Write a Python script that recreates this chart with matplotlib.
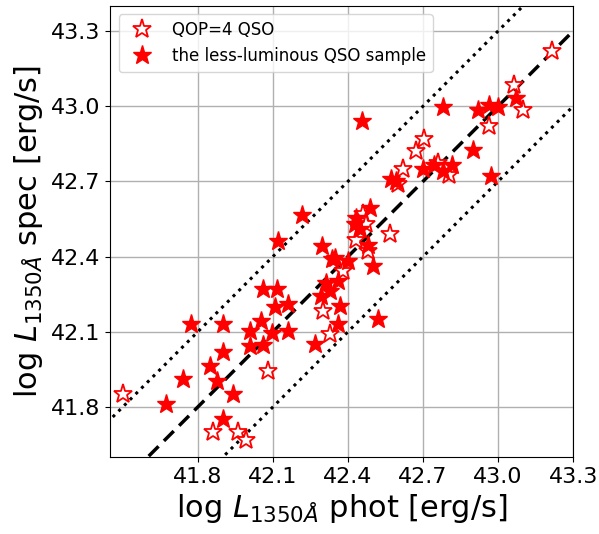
import numpy as np
import matplotlib
matplotlib.use('Agg')
import matplotlib.pyplot as plt

# QOP=4 QSOs (open stars)
phot_qop4 = [41.50, 41.862, 41.962, 41.992, 42.079, 42.300, 42.330, 42.380,
             42.433, 42.480, 42.460, 42.473, 42.569, 42.599, 42.619, 42.670,
             42.702, 42.759, 42.802, 42.962, 43.064, 43.100, 43.217]
spec_qop4 = [41.85, 41.700, 41.700, 41.670, 41.943, 42.182, 42.090, 42.342,
             42.468, 42.421, 42.568, 42.528, 42.488, 42.688, 42.750, 42.820,
             42.867, 42.774, 42.727, 42.920, 43.083, 42.984, 43.219]

# less-luminous QSO sample (filled stars)
phot_faint = [41.672, 41.739, 41.772, 41.902, 41.902, 41.849, 41.878, 41.939,
              41.900, 42.008, 42.008, 42.218, 42.121, 42.298, 42.061, 42.117,
              42.338, 42.161, 42.108, 42.051, 42.095, 42.161, 42.061, 42.270,
              42.360, 42.367, 42.500, 42.520, 42.347, 42.400, 42.360, 42.314,
              42.327, 42.294, 42.486, 42.433, 42.427, 42.447, 42.480, 42.573,
              42.590, 42.699, 42.745, 42.778, 42.816, 42.901, 42.971, 42.778,
              42.918, 42.965, 42.998, 43.071, 42.457]
spec_faint = [41.810, 41.912, 42.129, 42.129, 42.020, 41.963, 41.903, 41.850,
              41.753, 42.102, 42.043, 42.564, 42.464, 42.444, 42.272, 42.272,
              42.391, 42.209, 42.197, 42.142, 42.096, 42.102, 42.049, 42.053,
              42.130, 42.202, 42.362, 42.152, 42.395, 42.382, 42.302, 42.295,
              42.262, 42.242, 42.595, 42.555, 42.528, 42.508, 42.448, 42.710,
              42.700, 42.750, 42.767, 42.741, 42.767, 42.824, 42.721, 42.998,
              42.984, 43.003, 42.998, 43.033, 42.940]

ticks = [41.8, 42.1, 42.4, 42.7, 43.0, 43.3]

fig, ax = plt.subplots(figsize=(5.99, 5.34), dpi=100)
fig.subplots_adjust(left=0.184, right=0.957, top=0.989, bottom=0.144)

ax.grid(True, color='#b0b0b0', linewidth=1.0, zorder=0)
ax.set_axisbelow(True)

xx = np.array([41.3, 43.5])
ax.plot(xx, xx, 'k--', lw=2.5, dashes=(4, 2.2), zorder=1)
ax.plot(xx, xx + 0.3, 'k:', lw=2.2, zorder=1)
ax.plot(xx, xx - 0.3, 'k:', lw=2.2, zorder=1)

ax.plot(phot_qop4, spec_qop4, ls='none', marker='*', ms=14, mfc='white',
        mec='red', mew=1.3, label='QOP=4 QSO', zorder=3)
ax.plot(phot_faint, spec_faint, ls='none', marker='*', ms=14, color='red',
        label='the less-luminous QSO sample', zorder=3)

ax.set_xlim(41.45, 43.3)
ax.set_ylim(41.6, 43.4)
ax.set_xticks(ticks)
ax.set_yticks(ticks)
ax.tick_params(labelsize=16)
ax.set_xlabel(r'log $L_{1350\AA}$ phot [erg/s]', fontsize=22)
ax.set_ylabel(r'log $L_{1350\AA}$ spec [erg/s]', fontsize=22)
ax.legend(loc='upper left', fontsize=12)

plt.savefig('out.png')
